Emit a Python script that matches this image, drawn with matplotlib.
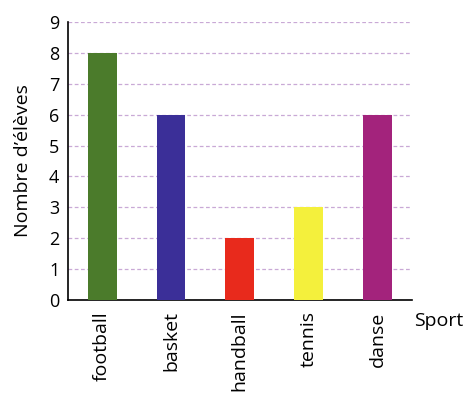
import matplotlib
matplotlib.use("Agg")
import matplotlib.pyplot as plt

sports = ["football", "basket", "handball", "tennis", "danse"]
counts = [8, 6, 2, 3, 6]
colors = ["#4b7b2b", "#3b2f98", "#e82a1c", "#f4f03c", "#a3237c"]

plt.rcParams['font.family'] = ['Open Sans', 'DejaVu Sans']
fig = plt.figure(figsize=(4.74, 4.04), dpi=100)
ax = fig.add_axes([0.143, 0.257, 0.726, 0.689])
x = range(len(sports))
ax.bar(x, counts, width=0.42, color=colors, zorder=3)
ax.set_xlim(-0.5, 4.5)
ax.set_ylim(0, 9)
ax.set_yticks(range(10))
ax.yaxis.grid(True, linestyle=(0, (3, 2)), color="#c9a9d6", linewidth=0.9, zorder=0)
ax.set_xticks(list(x))
ax.set_xticklabels(sports, rotation=90, fontsize=14)
ax.tick_params(axis="y", labelsize=13, length=0, pad=6)
ax.tick_params(axis="x", length=0, pad=8)
for s in ["top", "right"]:
    ax.spines[s].set_visible(False)
ax.spines["left"].set_linewidth(1.2)
ax.spines["bottom"].set_linewidth(1.2)
ax.set_ylabel("Nombre d’élèves", fontsize=14, labelpad=12)
fig.text(0.925, 0.205, "Sport", fontsize=14, ha="center", va="center")
fig.savefig("out.png", dpi=100)
